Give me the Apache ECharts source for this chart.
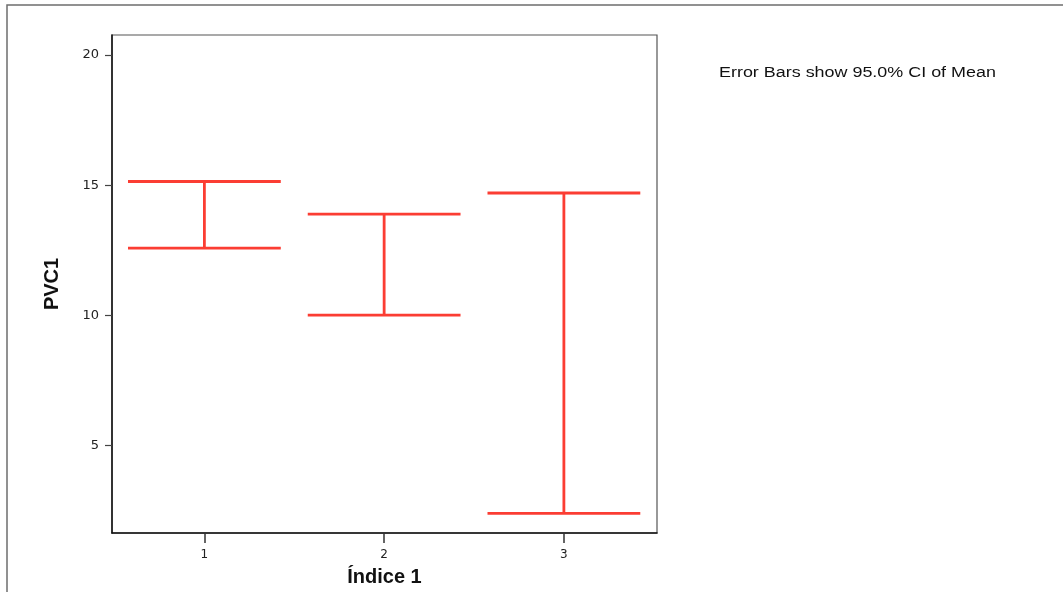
<!DOCTYPE html>
<html>
<head>
<meta charset="utf-8">
<script src="https://cdn.jsdelivr.net/npm/echarts@6/dist/echarts.min.js"></script>
<style>
  html, body { margin: 0; padding: 0; background: #fff; }
  #chart { width: 1063px; height: 592px; }
</style>
</head>
<body>
<div id="chart"></div>
<script>
// Groups of Índice 1 and the 95% CI bounds of PVC1 per group
const groups = [1, 2, 3];
const ciLower = [12.58, 10.01, 2.40];
const ciUpper = [15.14, 13.89, 14.70];
const yTicks = [5, 10, 15, 20];
const noteText = 'Error Bars show 95.0% CI of Mean';

const FONT = '"Liberation Sans", Arial, Helvetica, sans-serif';
const TICK_FONT = '"DejaVu Sans", "Liberation Sans", sans-serif';
const RED = '#fb3d33';

const chart = echarts.init(document.getElementById('chart'), null, { renderer: 'canvas' });

const barData = groups.map((g, i) => [g, ciLower[i], ciUpper[i]]);

chart.setOption({
  animation: false,
  backgroundColor: '#fff',
  grid: {
    left: 112, top: 35, width: 545, height: 500,
    show: true, borderColor: '#555', borderWidth: 1.2, backgroundColor: 'transparent'
  },
  xAxis: {
    type: 'value',
    min: 0.486, max: 3.518,
    name: 'Índice 1',
    nameLocation: 'middle',
    nameGap: 34,
    nameTextStyle: { fontFamily: FONT, fontSize: 20, fontWeight: 'bold', color: '#111' },
    axisLine: { show: true, lineStyle: { color: '#111', width: 1.5 } },
    axisTick: { show: true, inside: false, length: 10, customValues: groups, lineStyle: { color: '#333', width: 1.5 } },
    axisLabel: { customValues: groups, fontFamily: TICK_FONT, fontSize: 12, color: '#222', margin: 16 },
    splitLine: { show: false }
  },
  yAxis: {
    type: 'value',
    min: 1.646, max: 20.765,
    name: 'PVC1',
    nameLocation: 'middle',
    nameGap: 50,
    nameRotate: 90,
    nameTextStyle: { fontFamily: FONT, fontSize: 20, fontWeight: 'bold', color: '#111' },
    axisLine: { show: true, lineStyle: { color: '#111', width: 1.5 } },
    axisTick: { show: true, inside: false, length: 7, customValues: yTicks, lineStyle: { color: '#444', width: 1.2 } },
    axisLabel: { customValues: yTicks, fontFamily: TICK_FONT, fontSize: 13, color: '#222', margin: 13 },
    splitLine: { show: false }
  },
  graphic: [
    {
      type: 'rect', silent: true, z: 0,
      shape: { x: 7, y: 5, width: 1100, height: 640 },
      style: { fill: 'none', stroke: '#6e6e6e', lineWidth: 1.5 }
    },
    {
      type: 'text', x: 719, y: 66, scaleX: 1.28, silent: true,
      style: { text: noteText, fontFamily: FONT, fontSize: 14, fill: '#111' }
    }
  ],
  series: [{
    type: 'custom',
    data: barData,
    encode: { x: 0, y: [1, 2] },
    renderItem: function (params, api) {
      const x = api.value(0);
      const lo = api.coord([x, api.value(1)]);
      const hi = api.coord([x, api.value(2)]);
      const half = api.size([0.425, 0])[0];
      const style = { stroke: RED, lineWidth: 2.8, fill: null };
      return {
        type: 'group',
        children: [
          { type: 'line', shape: { x1: lo[0], y1: lo[1], x2: hi[0], y2: hi[1] }, style: style },
          { type: 'line', shape: { x1: hi[0] - half, y1: hi[1], x2: hi[0] + half, y2: hi[1] }, style: style },
          { type: 'line', shape: { x1: lo[0] - half, y1: lo[1], x2: lo[0] + half, y2: lo[1] }, style: style }
        ]
      };
    }
  }]
});
</script>
</body>
</html>
